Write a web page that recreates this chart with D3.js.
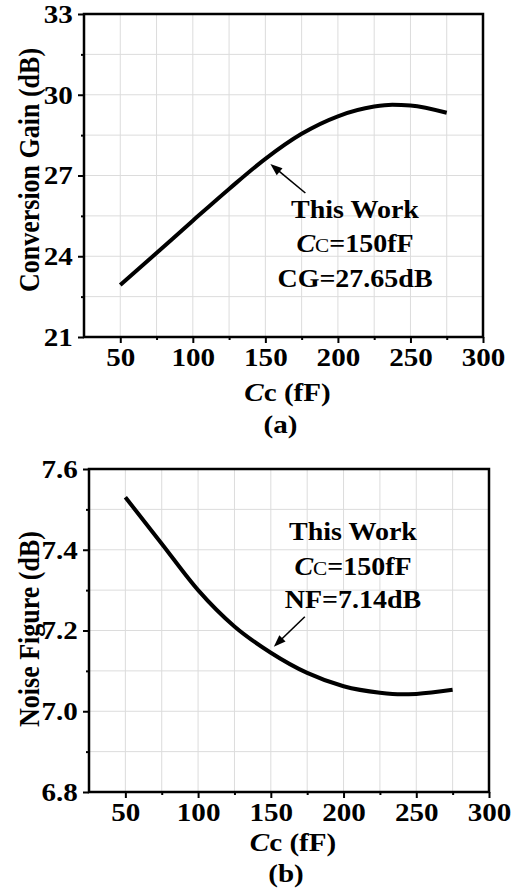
<!DOCTYPE html>
<html>
<head>
<meta charset="utf-8">
<script src="https://cdn.jsdelivr.net/npm/d3@7"></script>
<style>
  body { margin: 0; background: #fff; }
  svg text { font-family: "Liberation Serif", "Times New Roman", serif; font-weight: bold; fill: #000; }
</style>
</head>
<body>
<div id="chart"></div>
<script>
// values
var cc_values = [50, 75, 100, 125, 150, 175, 200, 225, 237.5, 250, 275];
var cg_values = [22.93, 24.12, 25.32, 26.5, 27.62, 28.55, 29.2, 29.56, 29.63, 29.6, 29.33];
var nf_cc_values = [50, 75, 100, 125, 150, 175, 200, 225, 240, 250, 275];
var nf_values = [7.53, 7.415, 7.30, 7.21, 7.145, 7.095, 7.062, 7.046, 7.042, 7.043, 7.053];

var x_ticks = [50, 100, 150, 200, 250, 300];
var cg_ticks = [21, 24, 27, 30, 33];
var nf_ticks = [6.8, 7.0, 7.2, 7.4, 7.6];

var cg_note = ["This Work", "=150fF", "CG=27.65dB"];
var nf_note = ["This Work", "=150fF", "NF=7.14dB"];
var note_cc = 150;
var note_cg = 27.65;
var note_nf = 7.14;

var width = 511;
var height = 894;
var sx_text = 1.12;   // the figure's lettering is a bit wider than tall

var svg = d3.select("#chart")
    .append("svg")
    .attr("width", width)
    .attr("height", height);

// text placed at (x, y), stretched horizontally
var place_text = function(parent, x, y, extra) {
    return parent.append("g")
        .attr("transform", "translate(" + x + "," + y + ") scale(" + sx_text + ",1)" + (extra || ""))
        .append("text");
};

var draw_panel = function(p) {
    var x = d3.scaleLinear().domain([25, 300]).range([p.left, p.right]);
    var y = d3.scaleLinear().domain(p.ydomain).range([p.bottom, p.top]);
    var g = svg.append("g");

    // grid
    var xgrid = d3.range(50, 300, 25);
    var ygrid = d3.range(p.ydomain[0] + p.ystep / 2, p.ydomain[1] - 1e-6, p.ystep / 2);
    g.selectAll(".gx").data(xgrid).enter().append("line")
        .attr("x1", d => x(d)).attr("x2", d => x(d))
        .attr("y1", p.top).attr("y2", p.bottom)
        .attr("stroke", "#dcdcdc").attr("stroke-width", 1);
    g.selectAll(".gy").data(ygrid).enter().append("line")
        .attr("x1", p.left).attr("x2", p.right)
        .attr("y1", d => y(d)).attr("y2", d => y(d))
        .attr("stroke", "#dcdcdc").attr("stroke-width", 1);

    // axes
    var xaxis = d3.axisBottom(x).tickValues(x_ticks).tickSize(6).tickPadding(4)
        .tickFormat(d3.format("d"));
    var xg = g.append("g").attr("transform", "translate(0," + p.bottom + ")").call(xaxis);
    var xminor = g.append("g").attr("transform", "translate(0," + p.bottom + ")")
        .call(d3.axisBottom(x).tickValues(d3.range(75, 300, 50)).tickSize(3).tickFormat(""));
    var yaxis = d3.axisLeft(y).tickValues(p.yticks).tickSize(6).tickPadding(4)
        .tickFormat(p.yfmt);
    var yg = g.append("g").attr("transform", "translate(" + p.left + ",0)").call(yaxis);
    var yminor = g.append("g").attr("transform", "translate(" + p.left + ",0)")
        .call(d3.axisLeft(y).tickValues(p.yticks.slice(0, -1).map(d => d + p.ystep / 2))
            .tickSize(3).tickFormat(""));
    [xg, yg, xminor, yminor].forEach(function(a) {
        a.select(".domain").remove();
        a.selectAll(".tick line").attr("stroke", "#000").attr("stroke-width", 2);
        a.selectAll("text").attr("font-size", 26).attr("fill", "#000")
            .attr("transform", "scale(" + sx_text + ",1)")
            .style("font-family", "Liberation Serif");
    });
    xg.selectAll("text").attr("dy", "0.72em");

    // frame
    g.append("rect")
        .attr("x", p.left).attr("y", p.top)
        .attr("width", p.right - p.left).attr("height", p.bottom - p.top)
        .attr("fill", "none").attr("stroke", "#000").attr("stroke-width", 2.5);

    // curve
    var line = d3.line()
        .x(d => x(d[0])).y(d => y(d[1]))
        .curve(d3.curveMonotoneX);
    g.append("path")
        .datum(d3.zip(p.xs, p.ys))
        .attr("fill", "none").attr("stroke", "#000")
        .attr("stroke-width", 4).attr("stroke-linejoin", "round")
        .attr("d", line);

    // arrow
    var tx = x(note_cc) + p.tip[0], ty = y(p.note_y) + p.tip[1];
    var sx = tx + p.tail[0], sy = ty + p.tail[1];
    var ang = Math.atan2(ty - sy, tx - sx);
    var hl = 12, hw = 4.5;
    g.append("line")
        .attr("x1", sx).attr("y1", sy)
        .attr("x2", tx - Math.cos(ang) * hl * 0.8).attr("y2", ty - Math.sin(ang) * hl * 0.8)
        .attr("stroke", "#000").attr("stroke-width", 1.6);
    var bx = tx - Math.cos(ang) * hl, by = ty - Math.sin(ang) * hl;
    g.append("path")
        .attr("d", "M" + tx + "," + ty +
            "L" + (bx - Math.sin(ang) * hw) + "," + (by + Math.cos(ang) * hw) +
            "L" + (bx + Math.sin(ang) * hw) + "," + (by - Math.cos(ang) * hw) + "Z")
        .attr("fill", "#000");

    // note text
    var nt = g.append("g").attr("text-anchor", "middle").attr("font-size", 25);
    place_text(nt, p.note_x, p.note_base[0]).text(p.note[0]);
    var t2 = place_text(nt, p.note_x, p.note_base[1]);
    t2.append("tspan").attr("font-style", "italic").text("C");
    t2.append("tspan").attr("font-size", 19).attr("font-weight", "normal").text("C");
    t2.append("tspan").text(p.note[1]);
    place_text(nt, p.note_x, p.note_base[2]).text(p.note[2]);

    // axis titles
    place_text(g, p.ytitle_x, p.ytitle_y, " rotate(-90)")
        .attr("text-anchor", "middle").attr("font-size", 26)
        .text(p.ytitle);
    var xt = place_text(g, (p.left + p.right) / 2 + 4, p.xtitle_y)
        .attr("text-anchor", "middle").attr("font-size", 26);
    xt.append("tspan").attr("font-style", "italic").text("C");
    xt.append("tspan").text("c (fF)");
    place_text(g, (p.left + p.right) / 2 - 3, p.label_y)
        .attr("text-anchor", "middle").attr("font-size", 26)
        .text(p.label);
};

draw_panel({
    left: 84, right: 483, top: 14, bottom: 337,
    ydomain: [21, 33], ystep: 3, yticks: cg_ticks, yfmt: d3.format("d"),
    xs: cc_values, ys: cg_values,
    note_y: note_cg, tip: [5, 6], tail: [35, 29],
    note: cg_note, note_x: 355, note_base: [218, 252, 287],
    ytitle: "Conversion Gain (dB)", ytitle_x: 39, ytitle_y: 170,
    xtitle_y: 401, label: "(a)", label_y: 433
});

draw_panel({
    left: 89, right: 489, top: 469, bottom: 792,
    ydomain: [6.8, 7.6], ystep: 0.2, yticks: nf_ticks, yfmt: d3.format(".1f"),
    xs: nf_cc_values, ys: nf_values,
    note_y: note_nf, tip: [3, -8], tail: [31, -30],
    note: nf_note, note_x: 353, note_base: [540, 575, 608],
    ytitle: "Noise Figure (dB)", ytitle_x: 39, ytitle_y: 629,
    xtitle_y: 851, label: "(b)", label_y: 882
});
</script>
</body>
</html>
